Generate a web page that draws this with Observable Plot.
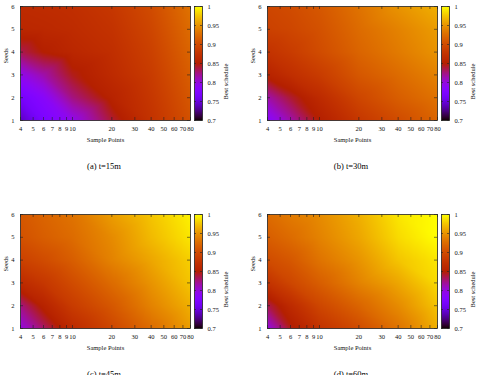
<!DOCTYPE html>
<html><head><meta charset="utf-8">
<script src="https://cdn.jsdelivr.net/npm/d3@7"></script>
<script src="https://cdn.jsdelivr.net/npm/@observablehq/plot@0.6"></script>
<style>
html,body{margin:0;padding:0;background:#fff;}
#root{position:relative;width:479px;height:375px;overflow:hidden;font-family:"Liberation Serif",serif;}
.cap{position:absolute;font-size:8.5px;line-height:10px;text-align:center;width:200px;color:#000;}
</style></head><body><div id="root"></div>
<script>
// grid of sampled values (columns = sample points, rows = seeds)
const samplePoints = [4, 6, 10, 20, 40, 80];
const seeds = [1, 2, 3, 4, 5, 6];
const xTicks = [4, 5, 6, 7, 8, 9, 10, 20, 30, 40, 50, 60, 70, 80];
const yTicks = [1, 2, 3, 4, 5, 6];
const cbTicks = [0.7, 0.75, 0.8, 0.85, 0.9, 0.95, 1];

const v15 = [
  [0.74, 0.77, 0.795, 0.84, 0.875, 0.905],
  [0.765, 0.785, 0.825, 0.855, 0.88, 0.91],
  [0.795, 0.815, 0.845, 0.865, 0.885, 0.915],
  [0.835, 0.85, 0.86, 0.87, 0.89, 0.92],
  [0.86, 0.862, 0.866, 0.875, 0.895, 0.925],
  [0.865, 0.867, 0.87, 0.88, 0.9, 0.93]
];
const v30 = [
  [0.785, 0.815, 0.85, 0.88, 0.9, 0.92],
  [0.815, 0.84, 0.865, 0.895, 0.915, 0.93],
  [0.855, 0.87, 0.885, 0.91, 0.925, 0.94],
  [0.875, 0.885, 0.9, 0.92, 0.935, 0.95],
  [0.89, 0.895, 0.905, 0.925, 0.94, 0.955],
  [0.895, 0.9, 0.91, 0.93, 0.95, 0.965]
];
const v45 = [
  [0.80, 0.83, 0.865, 0.895, 0.925, 0.955],
  [0.825, 0.855, 0.885, 0.91, 0.94, 0.965],
  [0.865, 0.88, 0.9, 0.925, 0.95, 0.975],
  [0.89, 0.9, 0.915, 0.94, 0.96, 0.98],
  [0.905, 0.915, 0.925, 0.945, 0.97, 0.99],
  [0.91, 0.92, 0.93, 0.955, 0.975, 0.995]
];
const v60 = [
  [0.80, 0.845, 0.875, 0.9, 0.93, 0.965],
  [0.835, 0.865, 0.895, 0.92, 0.945, 0.975],
  [0.875, 0.895, 0.915, 0.94, 0.96, 0.985],
  [0.9, 0.91, 0.93, 0.95, 0.975, 0.99],
  [0.915, 0.925, 0.94, 0.96, 0.985, 1.0],
  [0.925, 0.935, 0.945, 0.965, 0.99, 1.0]
];
const captions = ["(a) t=15m", "(b) t=30m", "(c) t=45m", "(d) t=60m"];
const panelValues = [v15, v30, v45, v60];

// gnuplot default pm3d palette (rgbformulae 7,5,15)
const gnuplotPalette = t => {
  t = Math.max(0, Math.min(1, t));
  const r = Math.sqrt(t), g = t * t * t, b = Math.max(0, Math.sin(2 * Math.PI * t));
  return `rgb(${Math.round(255 * r)},${Math.round(255 * g)},${Math.round(255 * b)})`;
};
const colorOpts = {type: "linear", domain: [0.7, 1], clamp: true, interpolate: gnuplotPalette};

const root = document.getElementById("root");
const offsets = [[0, 0], [247, 0], [0, 208], [247, 208]];
const H = 150, MT = 6, MB = 30, ML = 20, MR = 5, W = 195;
const FH = H - MT - MB, FW = W - ML - MR;
const style = {fontFamily: "Liberation Serif, serif", fontSize: "6.5px", background: "transparent", overflow: "visible"};
const ink = "#111";

function place(el, left, top) {
  el.style.position = "absolute";
  el.style.left = left + "px";
  el.style.top = top + "px";
  root.appendChild(el);
}

panelValues.forEach((vals, k) => {
  const [ox, oy] = offsets[k];
  const pts = [];
  seeds.forEach((s, i) => samplePoints.forEach((p, j) => pts.push({x: p, y: s, v: vals[i][j]})));
  const main = Plot.plot({
    width: W, height: H, marginLeft: ML, marginRight: MR, marginTop: MT, marginBottom: MB,
    style,
    x: {type: "log", domain: [4, 80], axis: null},
    y: {domain: [1, 6], axis: null},
    color: colorOpts,
    marks: [
      Plot.raster(pts, {x: "x", y: "y", fill: "v", x1: 4, x2: 80, y1: 1, y2: 6, interpolate: "barycentric"}),
      Plot.frame({stroke: "#222", strokeWidth: 0.8}),
      Plot.tickX(xTicks, {x: d => d, insetTop: FH - 3, stroke: "#222", strokeWidth: 0.6}),
      Plot.tickX(xTicks, {x: d => d, insetBottom: FH - 3, stroke: "#222", strokeWidth: 0.6}),
      Plot.tickY(yTicks, {y: d => d, insetRight: FW - 3, stroke: "#222", strokeWidth: 0.6}),
      Plot.tickY(yTicks, {y: d => d, insetLeft: FW - 3, stroke: "#222", strokeWidth: 0.6}),
      Plot.text(xTicks, {x: d => d, text: d => String(d), frameAnchor: "bottom", dy: 10, fill: ink}),
      Plot.text(yTicks, {y: d => d, text: d => String(d), frameAnchor: "left", dx: -6, textAnchor: "end", fill: ink}),
      Plot.text(["Sample Points"], {text: d => d, frameAnchor: "bottom", dy: 21, fill: ink}),
      Plot.text(["Seeds"], {text: d => d, frameAnchor: "left", dx: -15, rotate: -90, fill: ink})
    ]
  });
  place(main, ox, oy);

  const cb = Plot.plot({
    width: 45, height: H, marginLeft: 4, marginRight: 33, marginTop: MT, marginBottom: MB,
    style,
    x: {domain: [0, 1], axis: null},
    y: {domain: [0.7, 1], axis: null},
    color: colorOpts,
    marks: [
      Plot.raster({fill: (x, y) => y, x1: 0, x2: 1, y1: 0.7, y2: 1}),
      Plot.frame({stroke: "#222", strokeWidth: 0.8}),
      Plot.tickY(cbTicks, {y: d => d, insetLeft: 6, stroke: "#222", strokeWidth: 0.6}),
      Plot.tickY(cbTicks, {y: d => d, insetRight: 6, stroke: "#222", strokeWidth: 0.6}),
      Plot.text(cbTicks, {y: d => d, text: d => String(d), frameAnchor: "right", dx: 5, textAnchor: "start", fill: ink}),
      Plot.text(["Best schedule"], {text: d => d, frameAnchor: "right", dx: 23, rotate: -90, fill: ink})
    ]
  });
  place(cb, ox + 190, oy);

  const cap = document.createElement("div");
  cap.className = "cap";
  cap.textContent = captions[k];
  place(cap, ox + 4, oy + 161);
});
</script>
</body></html>
